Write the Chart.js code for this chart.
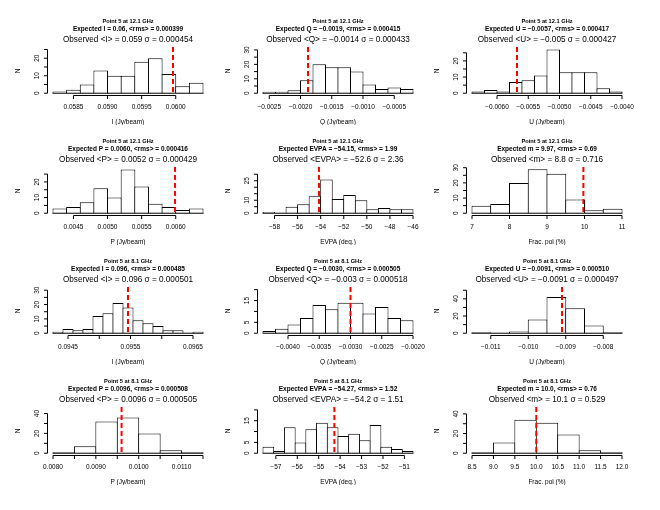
<!DOCTYPE html>
<html>
<head>
<meta charset="utf-8">
<script src="https://cdn.jsdelivr.net/npm/chart.js@4"></script>
<style>
  body { margin: 0; background: #fff; }
  #fig { position: relative; width: 660px; height: 510px; overflow: hidden; }
  #fig canvas { position: absolute; }
</style>
</head>
<body>
<div id="fig"></div>
<script>
// ---- data (bin edges, counts, true value) ----

// 12.1 GHz
const breaksI12 = [0.0582, 0.0584, 0.0586, 0.0588, 0.0590, 0.0592, 0.0594, 0.0596, 0.0598, 0.0600, 0.0602, 0.0604];
const countsI12 = [1, 2, 5, 13, 10, 10, 18, 20, 11, 4, 6];
const breaksQ12 = [-0.0026, -0.0024, -0.0022, -0.0020, -0.0018, -0.0016, -0.0014, -0.0012, -0.0010, -0.0008, -0.0006, -0.0004, -0.0002];
const countsQ12 = [1, 1, 2, 9, 20, 18, 18, 15, 6, 3, 4, 3];
const breaksU12 = [-0.0064, -0.0062, -0.0060, -0.0058, -0.0056, -0.0054, -0.0052, -0.0050, -0.0048, -0.0046, -0.0044, -0.0042, -0.0040];
const countsU12 = [1, 2, 1, 7, 8, 11, 27, 13, 13, 13, 3, 1];
const breaksP12 = [0.0042, 0.0044, 0.0046, 0.0048, 0.0050, 0.0052, 0.0054, 0.0056, 0.0058, 0.0060, 0.0062, 0.0064];
const countsP12 = [3, 4, 7, 16, 10, 28, 17, 6, 4, 2, 3];
const breaksE12 = [-59, -58, -57, -56, -55, -54, -53, -52, -51, -50, -49, -48, -47, -46];
const countsE12 = [1, 0, 5, 7, 13, 26, 11, 14, 10, 3, 4, 3, 3];
const breaksM12 = [7, 7.5, 8, 8.5, 9, 9.5, 10, 10.5, 11];
const countsM12 = [5, 6, 20, 29, 26, 9, 2, 3];

// 8.1 GHz
const breaksI8 = [0.09426, 0.09442, 0.09458, 0.09474, 0.09490, 0.09506, 0.09522, 0.09538, 0.09554, 0.09570, 0.09586, 0.09602, 0.09618, 0.09634, 0.09650, 0.09666];
const countsI8 = [1, 3, 2, 3, 12, 14, 21, 18, 9, 7, 5, 2, 2, 0, 1];
const breaksQ8 = [-0.0044, -0.0042, -0.0040, -0.0038, -0.0036, -0.0034, -0.0032, -0.0030, -0.0028, -0.0026, -0.0024, -0.0022, -0.0020];
const countsQ8 = [1, 2, 4, 7, 13, 11, 14, 14, 9, 12, 7, 6];
const breaksU8 = [-0.0115, -0.0110, -0.0105, -0.0100, -0.0095, -0.0090, -0.0085, -0.0080, -0.0075];
const countsU8 = [1, 0, 2, 16, 42, 29, 9, 1];
const breaksP8 = [0.0080, 0.0085, 0.0090, 0.0095, 0.0100, 0.0105, 0.0110, 0.0115];
const countsP8 = [1, 7, 32, 36, 20, 3, 1];
const breaksE8 = [-57.6, -57.1, -56.6, -56.1, -55.6, -55.1, -54.6, -54.1, -53.6, -53.1, -52.6, -52.1, -51.6, -51.1, -50.6];
const countsE8 = [3, 1, 12, 5, 11, 14, 12, 8, 9, 6, 13, 3, 2, 1];
const breaksM8 = [8.5, 9.0, 9.5, 10.0, 10.5, 11.0, 11.5, 12.0];
const countsM8 = [1, 11, 34, 31, 19, 3, 1];

// expected values (red dashed lines)
const expected = [0.05996, -0.00188, -0.00568, 0.00599, -54.15, 9.97,
                  0.09546, -0.0030, -0.0091, 0.0096, -54.27, 10.0];

// ---- x tick values and labels ----
const xTicksI12 = [0.0585, 0.0590, 0.0595, 0.0600];
const xLabelsI12 = ['0.0585', '0.0590', '0.0595', '0.0600'];
const xTicksQ12 = [-0.0025, -0.0020, -0.0015, -0.0010, -0.0005];
const xLabelsQ12 = ['−0.0025', '−0.0020', '−0.0015', '−0.0010', '−0.0005'];
const xTicksU12 = [-0.0060, -0.0055, -0.0050, -0.0045, -0.0040];
const xLabelsU12 = ['−0.0060', '−0.0055', '−0.0050', '−0.0045', '−0.0040'];
const xTicksP12 = [0.0045, 0.0050, 0.0055, 0.0060];
const xLabelsP12 = ['0.0045', '0.0050', '0.0055', '0.0060'];
const xTicksE12 = [-58, -56, -54, -52, -50, -48, -46];
const xLabelsE12 = ['−58', '−56', '−54', '−52', '−50', '−48', '−46'];
const xTicksM12 = [7, 8, 9, 10, 11];
const xLabelsM12 = ['7', '8', '9', '10', '11'];
const xTicksI8 = [0.0945, 0.0950, 0.0955, 0.0960, 0.0965];
const xLabelsI8 = ['0.0945', '', '0.0955', '', '0.0965'];
const xTicksQ8 = [-0.0040, -0.0035, -0.0030, -0.0025, -0.0020];
const xLabelsQ8 = ['−0.0040', '−0.0035', '−0.0030', '−0.0025', '−0.0020'];
const xTicksU8 = [-0.011, -0.010, -0.009, -0.008];
const xLabelsU8 = ['−0.011', '−0.010', '−0.009', '−0.008'];
const xTicksP8 = [0.0080, 0.0085, 0.0090, 0.0095, 0.0100, 0.0105, 0.0110, 0.0115];
const xLabelsP8 = ['0.0080', '', '0.0090', '', '0.0100', '', '0.0110', ''];
const xTicksE8 = [-57, -56, -55, -54, -53, -52, -51];
const xLabelsE8 = ['−57', '−56', '−55', '−54', '−53', '−52', '−51'];
const xTicksM8 = [8.5, 9.0, 9.5, 10.0, 10.5, 11.0, 11.5, 12.0];
const xLabelsM8 = ['8.5', '9.0', '9.5', '10.0', '10.5', '11.0', '11.5', '12.0'];

// ---- y ticks (R drops labels that would overlap) ----
const yTicks25 = [0, 5, 10, 15, 20, 25];
const yLabels25 = ['0', '', '10', '', '20', ''];
const yTicks30 = [0, 5, 10, 15, 20, 25, 30];
const yLabels30 = ['0', '', '10', '', '20', '', '30'];
const yLabelsE12 = ['0', '', '10', '', '', '25', ''];
const yTicks20 = [0, 5, 10, 15, 20];
const yLabels20 = ['0', '5', '', '15', ''];
const yTicks40 = [0, 10, 20, 30, 40];
const yLabels40 = ['0', '', '20', '', '40'];
const yTicks50 = [0, 10, 20, 30, 40, 50];
const yLabels50 = ['0', '', '20', '', '40', ''];
const yLims = [25.4, 30.8, 27.5, 28.4, 34.2, 29.3, 31.0, 20.4, 51.7, 44.8, 20.5, 45.2];

// ---- titles ----
const heads = ['Point 5 at 12.1 GHz', 'Point 5 at 8.1 GHz'];
const expLines = [
  'Expected I = 0.06, <rms> = 0.000399', 'Expected Q = −0.0019, <rms> = 0.000415', 'Expected U = −0.0057, <rms> = 0.000417',
  'Expected P = 0.0060, <rms> = 0.000416', 'Expected EVPA = −54.15, <rms> = 1.99', 'Expected m = 9.97, <rms> = 0.69',
  'Expected I = 0.096, <rms> = 0.000485', 'Expected Q = −0.0030, <rms> = 0.000505', 'Expected U = −0.0091, <rms> = 0.000510',
  'Expected P = 0.0096, <rms> = 0.000508', 'Expected EVPA = −54.27, <rms> = 1.52', 'Expected m = 10.0, <rms> = 0.76'
];
const obsLines = [
  'Observed <I> = 0.059 σ = 0.000454', 'Observed <Q> = −0.0014 σ = 0.000433', 'Observed <U> = −0.005 σ = 0.000427',
  'Observed <P> = 0.0052 σ = 0.000429', 'Observed <EVPA> = −52.6 σ = 2.36', 'Observed <m> = 8.8 σ = 0.716',
  'Observed <I> = 0.096 σ = 0.000501', 'Observed <Q> = −0.003 σ = 0.000518', 'Observed <U> = −0.0091 σ = 0.000497',
  'Observed <P> = 0.0096 σ = 0.000505', 'Observed <EVPA> = −54.2 σ = 1.51', 'Observed <m> = 10.1 σ = 0.529'
];
const xTitles = ['I (Jy/beam)', 'Q (Jy/beam)', 'U (Jy/beam)', 'P (Jy/beam)', 'EVPA (deg.)', 'Frac. pol (%)'];

const panels = [
  [breaksI12, countsI12, xTicksI12, xLabelsI12, yTicks25, yLabels25],
  [breaksQ12, countsQ12, xTicksQ12, xLabelsQ12, yTicks30, yLabels30],
  [breaksU12, countsU12, xTicksU12, xLabelsU12, yTicks25, yLabels25],
  [breaksP12, countsP12, xTicksP12, xLabelsP12, yTicks25, yLabels25],
  [breaksE12, countsE12, xTicksE12, xLabelsE12, yTicks30, yLabelsE12],
  [breaksM12, countsM12, xTicksM12, xLabelsM12, yTicks30, yLabels30],
  [breaksI8, countsI8, xTicksI8, xLabelsI8, yTicks30, yLabels30],
  [breaksQ8, countsQ8, xTicksQ8, xLabelsQ8, yTicks20, yLabels20],
  [breaksU8, countsU8, xTicksU8, xLabelsU8, yTicks50, yLabels50],
  [breaksP8, countsP8, xTicksP8, xLabelsP8, yTicks40, yLabels40],
  [breaksE8, countsE8, xTicksE8, xLabelsE8, yTicks20, yLabels20],
  [breaksM8, countsM8, xTicksM8, xLabelsM8, yTicks40, yLabels40]
].map(([breaks, counts, xTicks, xLabels, yTicks, yLabels], i) => ({
  breaks, counts, xTicks, xLabels, yTicks, yLabels,
  yLim: yLims[i],
  truth: expected[i],
  head: heads[i < 6 ? 0 : 1],
  expLine: expLines[i],
  obsLine: obsLines[i],
  xTitle: xTitles[i % 6]
}));

// ---- layout ----
const colX = [0, 210, 419];
const rowY = [0, 120, 240, 360];
const W = 215, H = 125;
const FONT = '"Liberation Sans", Arial, Helvetica, sans-serif';

function rPlot(p) {
  return {
    id: 'rPlot',
    afterDatasetsDraw(chart) {
      const { ctx, chartArea: a, scales: { x, y } } = chart;
      ctx.save();
      ctx.strokeStyle = '#000';
      ctx.fillStyle = '#000';
      ctx.lineWidth = 1;

      // baseline under the bars (zero-count bins too)
      const yz = y.getPixelForValue(0);
      ctx.beginPath();
      ctx.moveTo(x.getPixelForValue(p.breaks[0]) - 0.5, yz);
      ctx.lineTo(x.getPixelForValue(p.breaks[p.breaks.length - 1]) + 0.5, yz);
      ctx.stroke();

      // expected value
      const xv = x.getPixelForValue(p.truth);
      ctx.save();
      ctx.strokeStyle = '#ff0000';
      ctx.lineWidth = 2;
      ctx.setLineDash([5, 3]);
      ctx.beginPath();
      ctx.moveTo(xv, a.top);
      ctx.lineTo(xv, a.bottom);
      ctx.stroke();
      ctx.restore();

      // x axis
      const xb = Math.round(a.bottom) + 0.5;
      const tx = p.xTicks.map(v => x.getPixelForValue(v));
      ctx.beginPath();
      ctx.moveTo(tx[0], xb);
      ctx.lineTo(tx[tx.length - 1], xb);
      tx.forEach(px => { ctx.moveTo(px, xb); ctx.lineTo(px, xb + 3.5); });
      ctx.stroke();
      ctx.font = '6.5px ' + FONT;
      ctx.textAlign = 'center';
      ctx.textBaseline = 'middle';
      tx.forEach((px, i) => ctx.fillText(p.xLabels[i], px, a.bottom + 12));
      ctx.fillText(p.xTitle, (a.left + a.right) / 2, a.bottom + 27);

      // y axis
      const yl = Math.round(a.left) + 0.5;
      const ty = p.yTicks.map(v => y.getPixelForValue(v));
      ctx.beginPath();
      ctx.moveTo(yl, ty[0]);
      ctx.lineTo(yl, ty[ty.length - 1]);
      ty.forEach(py => { ctx.moveTo(yl, py); ctx.lineTo(yl - 3.5, py); });
      ctx.stroke();
      const rot = (txt, px, py) => {
        ctx.save();
        ctx.translate(px, py);
        ctx.rotate(-Math.PI / 2);
        ctx.fillText(txt, 0, 0);
        ctx.restore();
      };
      ty.forEach((py, i) => rot(p.yLabels[i], a.left - 10, py));
      rot('N', a.left - 29, (a.top + a.bottom) / 2);

      // titles
      const cx = (a.left + a.right) / 2;
      ctx.font = 'bold 5.7px ' + FONT;
      ctx.fillText(p.head, cx, 21);
      ctx.font = 'bold 6.5px ' + FONT;
      ctx.fillText(p.expLine, cx, 29.5);
      ctx.font = '8.2px ' + FONT;
      ctx.fillText(p.obsLine, cx, 40);
      ctx.restore();
    }
  };
}

const fig = document.getElementById('fig');
panels.forEach((p, i) => {
  const cv = document.createElement('canvas');
  cv.width = W;
  cv.height = H;
  cv.style.left = colX[i % 3] + 'px';
  cv.style.top = rowY[Math.floor(i / 3)] + 'px';
  fig.appendChild(cv);

  const lo = p.breaks[0], hi = p.breaks[p.breaks.length - 1];
  new Chart(cv, {
    type: 'bar',
    data: {
      datasets: [{
        data: p.counts.map((n, k) => ({ x: (p.breaks[k] + p.breaks[k + 1]) / 2, y: n })),
        backgroundColor: '#ffffff',
        borderColor: '#000000',
        borderWidth: 1,
        borderSkipped: 'start',
        inflateAmount: 0,
        categoryPercentage: 1,
        // widen each bar by one pixel so neighbours share a single 1px edge centred on the break
        barPercentage: c => {
          const sx = c.chart.scales.x;
          if (!sx) return 1;
          const s = Math.abs(sx.getPixelForValue(p.breaks[1]) - sx.getPixelForValue(p.breaks[0]));
          return Number.isFinite(s) && s > 1 ? (s + 1) / s : 1;
        }
      }]
    },
    options: {
      responsive: false,
      animation: false,
      devicePixelRatio: 1,
      layout: { padding: { left: 47, right: W - 209, top: 47, bottom: H - 95 } },
      plugins: { legend: { display: false }, tooltip: { enabled: false }, title: { display: false } },
      scales: {
        x: {
          type: 'linear', display: false, offset: false,
          min: lo - 0.04 * (hi - lo), max: hi + 0.04 * (hi - lo),
          ticks: { display: false },
          afterBuildTicks: s => { s.ticks = []; }
        },
        y: {
          type: 'linear', display: false,
          min: -0.04 * p.yLim, max: 1.04 * p.yLim,
          ticks: { display: false },
          afterBuildTicks: s => { s.ticks = []; }
        }
      }
    },
    plugins: [rPlot(p)]
  });
});
</script>
</body>
</html>
